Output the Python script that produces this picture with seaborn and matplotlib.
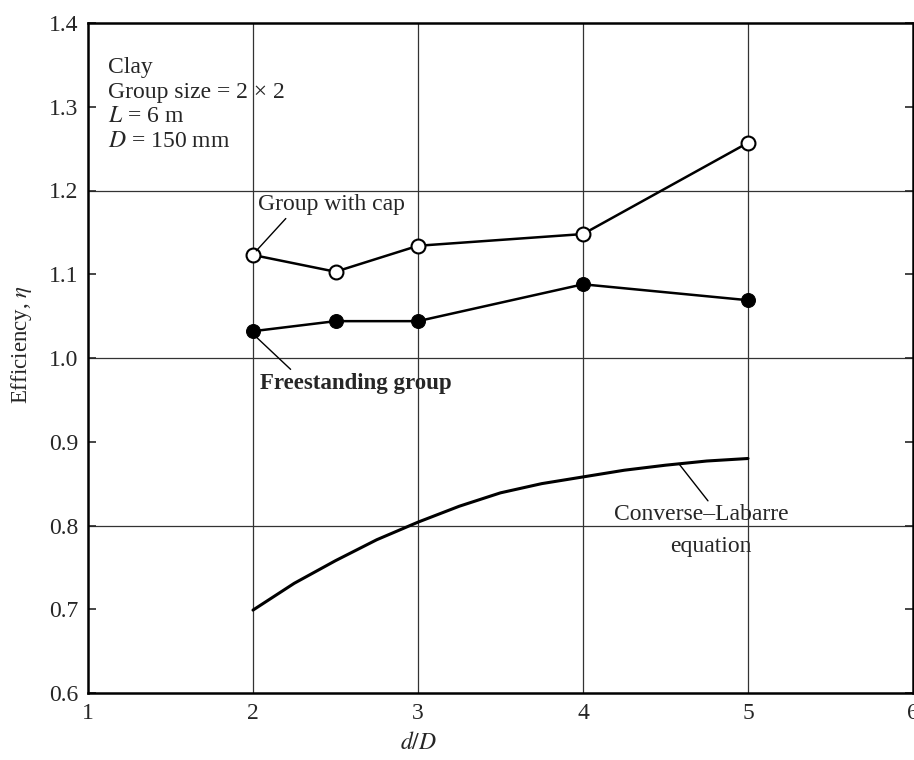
import seaborn as sns
import pandas as pd
import matplotlib.pyplot as plt

# values
spacing = [2, 2.5, 3, 4, 5]
eta_cap = [1.123, 1.103, 1.134, 1.148, 1.257]
eta_free = [1.032, 1.044, 1.044, 1.088, 1.069]

cl_spacing = [2, 2.25, 2.5, 2.75, 3, 3.25, 3.5, 3.75, 4, 4.25, 4.5, 4.75, 5]
cl_eta = [0.699, 0.731, 0.758, 0.783, 0.804, 0.823, 0.839, 0.850, 0.858, 0.866, 0.872, 0.877, 0.880]

x_ticks = [1, 2, 3, 4, 5, 6]
y_ticks = [0.6, 0.7, 0.8, 0.9, 1.0, 1.1, 1.2, 1.3, 1.4]
x_grid = [2, 3, 4, 5]
y_grid = [0.8, 1.0, 1.2]

sns.set_style("ticks")
plt.rcParams['font.family'] = ['Liberation Serif', 'DejaVu Serif']
plt.rcParams['mathtext.fontset'] = 'stix'

df_cap = pd.DataFrame({"d/D": spacing, "eta": eta_cap})
df_free = pd.DataFrame({"d/D": spacing, "eta": eta_free})
df_cl = pd.DataFrame({"d/D": cl_spacing, "eta": cl_eta})

fig = plt.figure(figsize=(9.14, 7.6), dpi=100)
ax = fig.add_axes([88 / 914, 67 / 760, 825 / 914, 670 / 760])

# grid lines
for gx in x_grid:
    ax.axvline(gx, color="#333333", lw=0.9, zorder=0)
for gy in y_grid:
    ax.axhline(gy, color="#333333", lw=0.9, zorder=0)

sns.lineplot(data=df_cl, x="d/D", y="eta", ax=ax, color="black", lw=2.2)
sns.lineplot(data=df_free, x="d/D", y="eta", ax=ax, color="black", lw=1.8,
             marker="o", markersize=10, markerfacecolor="black",
             markeredgecolor="black")
sns.lineplot(data=df_cap, x="d/D", y="eta", ax=ax, color="black", lw=1.8,
             marker="o", markersize=10, markerfacecolor="white",
             markeredgecolor="black", markeredgewidth=1.5)

ax.set_xlim(1, 6)
ax.set_ylim(0.6, 1.4)
ax.set_xticks(x_ticks)
ax.set_yticks(y_ticks)
ax.set_xticklabels([str(v) for v in x_ticks])
ax.set_yticklabels([f"{v:.1f}" for v in y_ticks])
ax.tick_params(axis="both", direction="in", length=6, width=1.2,
               labelsize=17, right=True, pad=7)
ax.tick_params(axis="x", length=0)
for sp in ax.spines.values():
    sp.set_linewidth(1.8)
    sp.set_color("black")

ax.set_xlabel("$d/D$", fontsize=17)
ax.xaxis.set_label_coords(0.4, -0.058)
ax.set_ylabel("Efficiency, $\\eta$", fontsize=16.5)
ax.yaxis.set_label_coords(-0.066, 0.52)

# info block
ax.text(1.12, 1.359, "Clay\nGroup size = 2 × 2\n$L$ = 6 m\n$D$ = 150 mm",
        fontsize=17, va="top", ha="left", linespacing=1.22)

# labels with leader lines
ax.annotate("Group with cap", xy=(2.02, 1.128), xytext=(2.03, 1.183),
            fontsize=17, va="center", ha="left",
            arrowprops=dict(arrowstyle="-", color="black", lw=1,
                            shrinkA=0, shrinkB=0, relpos=(0.21, 0)))
ax.annotate("Freestanding group", xy=(2.02, 1.025), xytext=(2.04, 0.97),
            fontsize=16.5, fontweight="bold", va="center", ha="left",
            arrowprops=dict(arrowstyle="-", color="black", lw=1,
                            shrinkA=0, shrinkB=0, relpos=(0.18, 1)))
ax.annotate("Converse–Labarre", xy=(4.58, 0.874), xytext=(4.72, 0.813),
            fontsize=17, va="center", ha="center",
            arrowprops=dict(arrowstyle="-", color="black", lw=1,
                            shrinkA=0, shrinkB=0, relpos=(0.55, 1)))
ax.text(5.02, 0.775, "equation", fontsize=17, va="center", ha="right")

fig.savefig("out.png", dpi=100)
